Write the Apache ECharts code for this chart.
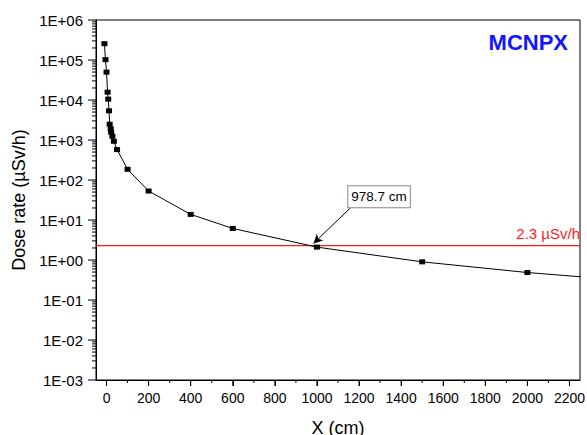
<!DOCTYPE html>
<html>
<head>
<meta charset="utf-8">
<script src="https://cdn.jsdelivr.net/npm/echarts@6/dist/echarts.min.js"></script>
<style>
html,body{margin:0;padding:0;background:#fff;overflow:hidden;}
#chart{width:587px;height:435px;}
</style>
</head>
<body>
<div id="chart"></div>
<script>
// ---- data ----
const xValues = [-10, -5, 0, 5, 8, 12, 15, 20, 22, 28, 35, 50, 100, 200, 400, 600, 1000, 1500, 2000, 2500];
const doseValues = [2.56e5, 1.02e5, 4.98e4, 1.57e4, 1.05e4, 5370, 2480, 1900, 1563, 1241, 929, 576, 185, 53, 13.8, 6.15, 2.1, 0.90, 0.486, 0.30];
const limitValue = 2.3;
const limitLabel = '2.3 µSv/h';
const crossingX = 978.7;
const crossingLabel = '978.7 cm';
const xTickValues = [0, 200, 400, 600, 800, 1000, 1200, 1400, 1600, 1800, 2000, 2200];
const xMinorTickValues = [100, 300, 500, 700, 900, 1100, 1300, 1500, 1700, 1900, 2100];
const yTickValues = [1e-3, 1e-2, 1e-1, 1e0, 1e1, 1e2, 1e3, 1e4, 1e5, 1e6];
const yTickLabels = ['1E-03', '1E-02', '1E-01', '1E+00', '1E+01', '1E+02', '1E+03', '1E+04', '1E+05', '1E+06'];
const titleText = 'MCNPX';
const xName = 'X (cm)';
const yName = 'Dose rate (µSv/h)';

const yMinorTickValues = [];
for (let k = -3; k < 6; k++) {
  for (let m = 2; m <= 9; m++) yMinorTickValues.push(m * Math.pow(10, k));
}

const FONT = 'Liberation Sans, Arial, sans-serif';
const RED = '#ff1a1a';
const chart = echarts.init(document.getElementById('chart'), null, {renderer: 'svg'});

const xMin = -50, xMax = 2250, yMin = 1e-3, yMax = 1e6;

// tick marks as scatter symbols placed by the axes' own scales
function tickSeries(name, points, size, offset) {
  return {
    type: 'scatter', name: name, data: points, clip: false, silent: true,
    symbol: 'rect', symbolSize: size, symbolOffset: offset,
    itemStyle: {color: '#000', opacity: 1}, z: 10
  };
}

chart.setOption({
  animation: false,
  backgroundColor: '#fff',
  title: {
    text: titleText,
    right: 14,
    top: 26,
    textStyle: {color: '#1414ff', fontFamily: FONT, fontWeight: 'bold', fontSize: 22}
  },
  grid: {
    left: 96, right: 7, top: 20, bottom: 55,
    outerBoundsMode: 'none',
    containLabel: false,
    show: true, borderColor: '#000', borderWidth: 1, backgroundColor: 'transparent'
  },
  xAxis: {
    type: 'value', min: xMin, max: xMax,
    name: xName, nameLocation: 'middle', nameGap: 39,
    nameTextStyle: {fontFamily: FONT, fontSize: 18, color: '#000'},
    axisLine: {show: true, onZero: false, lineStyle: {color: '#000', width: 1}},
    axisTick: {show: true, length: 6, customValues: xTickValues, lineStyle: {color: '#000', width: 1}},
    axisLabel: {customValues: xTickValues, fontFamily: FONT, fontSize: 14, color: '#000', margin: 11,
      formatter: function (v) { return String(v); }},
    splitLine: {show: false}
  },
  yAxis: {
    type: 'log', logBase: 10, min: yMin, max: yMax,
    name: yName, nameLocation: 'middle', nameGap: 66,
    nameTextStyle: {fontFamily: FONT, fontSize: 18, color: '#000'},
    axisLine: {show: true, onZero: false, lineStyle: {color: '#000', width: 1}},
    axisTick: {show: false},
    axisLabel: {
      customValues: yTickValues, fontFamily: FONT, fontSize: 15, color: '#000', margin: 13,
      formatter: function (v) {
        const e = Math.round(Math.log10(v));
        const i = yTickValues.findIndex(t => Math.round(Math.log10(t)) === e);
        return i >= 0 ? yTickLabels[i] : '';
      }
    },
    splitLine: {show: false}
  },
  series: [
    tickSeries('xMajorTicks', xTickValues.map(v => [v, yMin]), [1, 6], [0, 3]),
    tickSeries('xMinorTicks', xMinorTickValues.map(v => [v, yMin]), [1, 3], [0, 1.5]),
    tickSeries('yMajorTicks', yTickValues.map(v => [xMin, v]), [8, 1], [-4, 0]),
    tickSeries('yMinorTicks', yMinorTickValues.map(v => [xMin, v]), [4, 1], [-2, 0]),
  {
    type: 'line',
    name: 'limit',
    data: [[xMin, limitValue], [xMax, limitValue]],
    symbol: 'none',
    color: RED,
    lineStyle: {color: RED, width: 1.3, type: 'solid'},
    itemStyle: {color: RED},
    silent: true,
    z: 2,
    endLabel: {
      show: true, formatter: limitLabel, color: RED, fontFamily: FONT, fontSize: 15,
      align: 'right', verticalAlign: 'bottom', offset: [-8, -5]
    }
  }, {
    type: 'line',
    name: 'dose',
    data: xValues.map((x, i) => [x, doseValues[i]]),
    clip: true,
    symbol: 'rect',
    symbolSize: [6, 5],
    color: '#000',
    itemStyle: {color: '#000'},
    lineStyle: {color: '#000', width: 1},
    z: 3
  }, {
    type: 'line',
    name: 'annotation',
    data: [],
    color: '#000',
    markLine: {
      silent: true,
      animation: false,
      symbol: ['none', 'arrow'],
      symbolSize: [7, 9],
      data: [
        [{coord: [1160, 20.3]}, {coord: [crossingX + 5, 2.6]}]
      ],
      lineStyle: {color: '#000', width: 1, type: 'solid'},
      label: {show: false}
    },
    markPoint: {
      silent: true,
      animation: false,
      symbol: 'rect', symbolSize: 0,
      data: [{coord: [1295, 38.3], value: crossingLabel}],
      label: {
        show: true, position: 'inside', formatter: crossingLabel,
        color: '#000', fontFamily: FONT, fontSize: 13.5,
        backgroundColor: '#fff', borderColor: '#888', borderWidth: 1,
        padding: [4, 3, 3, 3]
      }
    }
  }]
});
</script>
</body>
</html>
